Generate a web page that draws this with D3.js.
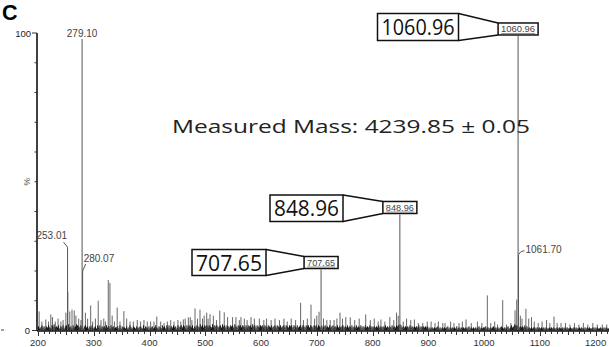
<!DOCTYPE html>
<html>
<head>
<meta charset="utf-8">
<script src="https://cdn.jsdelivr.net/npm/d3@7"></script>
<style>
  html, body { margin: 0; padding: 0; background: #fff; }
  svg { display: block; }
</style>
</head>
<body>
<svg id="chart" width="609" height="347"></svg>
<script>
// ---- data -------------------------------------------------------------
// labelled peaks: m/z and relative intensity (%)
const labelledMz  = [253.01, 279.10, 280.07, 707.65, 848.96, 1060.96, 1061.70];
const labelledPct = [28, 100, 20, 20.5, 39, 99, 25.5];

// unlabelled peaks above the baseline: [m/z, %]
const minorPeaks = [
  [202, 6.4], [207, 3], [214, 3.7], [219, 3], [223, 5.4], [226, 4.5], [231, 3], [236, 4],
  [241, 3], [245, 3.5], [250, 6], [253.5, 13], [257, 6.4], [261, 7], [265, 6.7], [268, 5],
  [273, 4], [277, 3.5], [285, 6], [289, 4], [294.5, 8.4], [298, 3], [303, 4], [308, 10],
  [313, 3.5], [318, 4], [321, 3], [326, 17], [329, 16], [333, 5], [337, 3], [342, 7.7],
  [347, 3], [354, 6.5], [359, 4], [365, 3], [371, 3], [378, 3.5], [384, 3], [390, 3.5],
  [396, 3], [402, 3], [408, 3], [413, 4.7], [420, 3], [426, 2.5], [432, 3], [438, 3.5],
  [444, 3], [451, 3.5], [456, 3], [460.6, 3.7], [464, 4], [469.6, 4.4], [473, 4.5], [476, 3.5],
  [481.6, 7.4], [486, 4], [490.5, 7], [495, 4], [498, 5], [502.5, 6], [505, 4], [508.5, 5.5],
  [514.5, 5], [520, 3.5], [526, 6.7], [534, 6.1], [540, 4.5], [549, 4.5], [555, 4.5], [561, 3.5],
  [564, 4.5], [570, 4], [575, 3.5], [582, 4.5], [588, 4], [597, 4], [605, 3.5], [610, 4],
  [618, 3.5], [625, 4], [633, 3.5], [641, 4], [647, 3], [654, 4], [662, 3.5], [671, 9.3],
  [676, 3.5], [683, 4], [689.6, 8.7], [696, 4], [700, 5], [704, 6.3], [712, 4], [718, 3.5],
  [724, 3.5], [731, 3.5], [736, 4], [741.6, 6], [746, 4], [752, 4.5], [760, 4.4], [768, 3.5],
  [776, 4], [787.7, 5.4], [796, 3.5], [803, 4], [810, 3], [815, 3.7], [822, 3], [831, 4.5],
  [838, 3.5], [843, 6], [846, 5], [855, 3], [861, 4], [868.5, 3.5], [875, 3.7], [882, 2.5],
  [890, 2.5], [898, 3], [905, 3], [912, 2.5], [918, 3], [926, 2.5], [930, 2.5], [940, 3],
  [946, 2.5], [955, 2.5], [961, 3], [967.6, 3.7], [977, 2.5], [988, 3], [996, 2.5], [1005.8, 11.8],
  [1012, 2.5], [1019, 3], [1024, 2], [1033.4, 10.2], [1040, 2], [1048, 2.5], [1055.5, 6.8], [1058.5, 10.4],
  [1065, 5], [1068, 4], [1075, 7.3], [1080, 4], [1085, 4.5], [1090, 3], [1097, 2.5], [1104, 3],
  [1112, 3.5], [1118, 2.5], [1125.4, 4.7], [1131, 2.5], [1138, 2.5], [1146, 2.5], [1154, 2], [1162, 2.5],
  [1170, 2], [1178, 2.5], [1186, 2], [1195, 2.5], [1203, 2], [1212, 2], [1220, 2]
];

// baseline chemical noise: one digit per 2 m/z units starting at 200, in steps of 0.35 %
const noiseStart = 200;
const noiseStep = 2;
const noiseUnit = 0.35;
const noiseRows = [
  "42353424353254634352435245363425346543532453424352", // 200
  "34253524342534253423342524332423532432423432524324", // 300
  "23423532432534253524353425345354253543524354364535", // 400
  "45354363545345364535435453643545354353545364535435", // 500
  "45354354353453543534535435453543534535435453543545", // 600
  "35435345343534534353434534353435343534353435343534", // 700
  "34343534343534343534354565343434353434343534343434", // 800
  "23232323423232323423232324232323232342323232342323", // 900
  "34232323423232343232342353465453434353423232332323", // 1000
  "23232322323232232322323232232232322323223232322323", // 1100
  "232232232322"                                        // 1200
];

const xTicks = [200, 300, 400, 500, 600, 700, 800, 900, 1000, 1100, 1200];
const yTickLabels = [[100, "100"], [0, "0"]];

// ---- scales -----------------------------------------------------------
const svg = d3.select("#chart");
const x = d3.scaleLinear().domain([200, 1224]).range([38, 609]);
const y = d3.scaleLinear().domain([0, 100]).range([330.5, 33]);

const noise = noiseRows.join("").split("").map((c, i) => ({
  mz: noiseStart + i * noiseStep + 1,
  pct: (+c) * noiseUnit
}));

// ---- spectrum ---------------------------------------------------------
const spec = svg.append("g");

spec.selectAll("line.minor").data(minorPeaks).join("line")
  .attr("class", "minor")
  .attr("x1", d => x(d[0])).attr("x2", d => x(d[0]))
  .attr("y1", y(0)).attr("y2", d => y(d[1]))
  .attr("stroke", "#666").attr("stroke-width", 1);

spec.selectAll("line.noise").data(noise).join("line")
  .attr("class", "noise")
  .attr("x1", d => x(d.mz)).attr("x2", d => x(d.mz))
  .attr("y1", y(0)).attr("y2", d => y(d.pct))
  .attr("stroke", "#111").attr("stroke-width", 1);

const major = labelledMz.map((m, i) => ({ mz: m, pct: labelledPct[i] }));
spec.selectAll("line.major").data(major).join("line")
  .attr("class", "major")
  .attr("x1", d => x(d.mz)).attr("x2", d => x(d.mz))
  .attr("y1", y(0)).attr("y2", d => y(d.pct))
  .attr("stroke", "#555").attr("stroke-width", 1);

// ---- axes -------------------------------------------------------------
const axisFont = "'Liberation Sans', Arial, sans-serif";
const ax = svg.append("g");

// x axis baseline and ticks
ax.append("line")
  .attr("x1", 37).attr("x2", 609).attr("y1", 331).attr("y2", 331)
  .attr("stroke", "#111").attr("stroke-width", 1.4);

const minorX = d3.range(200, 1225, 10);
ax.selectAll("line.xt").data(minorX).join("line")
  .attr("class", "xt")
  .attr("x1", d => Math.round(x(d)) + 0.5).attr("x2", d => Math.round(x(d)) + 0.5)
  .attr("y1", 331).attr("y2", d => d % 100 === 0 ? 336 : (d % 50 === 0 ? 335 : 334))
  .attr("stroke", "#333").attr("stroke-width", 1);

ax.selectAll("text.xl").data(xTicks).join("text")
  .attr("class", "xl")
  .attr("x", d => x(d)).attr("y", 346)
  .attr("text-anchor", "middle")
  .attr("font-family", axisFont).attr("font-size", 9.5)
  .attr("fill", "#333")
  .text(d => d);

// y axis
ax.append("line")
  .attr("x1", 37).attr("x2", 37).attr("y1", 33).attr("y2", 331)
  .attr("stroke", "#111").attr("stroke-width", 1.6);

ax.selectAll("line.yt").data(d3.range(0, 101, 10)).join("line")
  .attr("class", "yt")
  .attr("x1", d => (d === 0 || d === 100) ? 32 : 34.5).attr("x2", 37)
  .attr("y1", d => y(d)).attr("y2", d => y(d))
  .attr("stroke", "#333").attr("stroke-width", 1);

ax.selectAll("text.yl").data(yTickLabels).join("text")
  .attr("class", "yl")
  .attr("x", d => d[0] === 100 ? 31 : 30).attr("y", d => y(d[0]) + 3.5)
  .attr("text-anchor", "end")
  .attr("font-family", axisFont).attr("font-size", 9.5)
  .attr("fill", "#222")
  .text(d => d[1]);

ax.append("text")
  .attr("transform", `translate(30,${y(50)}) rotate(-90)`)
  .attr("text-anchor", "middle")
  .attr("font-family", axisFont).attr("font-size", 8.5)
  .attr("fill", "#555")
  .text("%");

ax.append("line")
  .attr("x1", 1).attr("x2", 4).attr("y1", 330).attr("y2", 330)
  .attr("stroke", "#444").attr("stroke-width", 1);

// ---- peak labels ------------------------------------------------------
const lab = svg.append("g").attr("font-family", axisFont).attr("font-size", 10).attr("fill", "#444");

// base peak label over its own line
const bx = x(279.10);
lab.append("rect").attr("x", bx - 16).attr("y", 28).attr("width", 32).attr("height", 11).attr("fill", "#fff");
lab.append("text").attr("x", bx).attr("y", 37).attr("text-anchor", "middle").text("279.10");

// 253.01 with leader
const p253 = x(253.01), t253 = y(28);
lab.append("text").attr("x", p253 - 0.5).attr("y", t253 - 8).attr("text-anchor", "end").text("253.01");
lab.append("path").attr("d", `M${p253 - 4},${t253 - 5} L${p253},${t253}`)
  .attr("stroke", "#555").attr("fill", "none");

// 280.07 with leader
const p280 = x(280.07), t280 = y(20);
lab.append("text").attr("x", p280 + 1).attr("y", t280 - 9.5).text("280.07");
lab.append("path").attr("d", `M${p280},${t280} L${p280 + 3},${t280 - 7}`)
  .attr("stroke", "#555").attr("fill", "none");

// 1061.70 with leader
const p1061 = x(1061.70), t1061 = y(25.5);
lab.append("text").attr("x", p1061 + 7).attr("y", t1061 - 1.5).text("1061.70");
lab.append("path").attr("d", `M${p1061},${t1061} Q${p1061 + 2},${t1061 - 4} ${p1061 + 6},${t1061 - 4}`)
  .attr("stroke", "#555").attr("fill", "none");

// ---- highlighted call-outs ------------------------------------------------
const callouts = [
  { mz: 1060.96, pct: 99,   big: [377.5, 13.5, 81, 27] },
  { mz: 848.96,  pct: 39,   big: [270, 195, 73, 26.5] },
  { mz: 707.65,  pct: 20.5, big: [192, 249.5, 74, 26] }
];
const co = svg.append("g");
callouts.forEach(c => {
  const px = x(c.mz), top = y(c.pct);
  const sw = c.mz >= 1000 ? 40 : 34, sh = 12;
  const sx = px - sw / 2, sy = top - sh - 1;
  const [bxx, byy, bw, bh] = c.big;
  // connecting wedge
  co.append("path")
    .attr("d", `M${bxx + bw},${byy} L${sx},${sy} M${bxx + bw},${byy + bh} L${sx},${sy + sh}`)
    .attr("stroke", "#111").attr("stroke-width", 1.5).attr("fill", "none");
  // small box on the peak
  co.append("rect").attr("x", sx).attr("y", sy).attr("width", sw).attr("height", sh)
    .attr("fill", "#fff").attr("stroke", "#111").attr("stroke-width", 1.5);
  co.append("text").attr("x", px).attr("y", sy + 9.5)
    .attr("text-anchor", "middle")
    .attr("font-family", axisFont).attr("font-size", 9)
    .attr("fill", "#444")
    .attr("textLength", sw - 6).attr("lengthAdjust", "spacingAndGlyphs")
    .text(c.mz.toFixed(2));
  co.append("line").attr("x1", sx + 3).attr("x2", sx + sw - 3)
    .attr("y1", sy + sh - 1.5).attr("y2", sy + sh - 1.5)
    .attr("stroke", "#777").attr("stroke-width", 0.8);
  // large box
  co.append("rect").attr("x", bxx).attr("y", byy).attr("width", bw).attr("height", bh)
    .attr("fill", "#fff").attr("stroke", "#111").attr("stroke-width", 1.5);
  co.append("text").attr("x", bxx + bw / 2).attr("y", byy + bh / 2 + 8)
    .attr("text-anchor", "middle")
    .attr("font-family", "'Open Sans', 'Noto Sans', sans-serif").attr("font-size", 22)
    .attr("fill", "#111")
    .attr("textLength", bw - 8).attr("lengthAdjust", "spacingAndGlyphs")
    .text(c.mz.toFixed(2));
});

// ---- titles -----------------------------------------------------------
svg.append("text").attr("x", 2).attr("y", 19.5)
  .attr("font-family", "'Liberation Sans', Arial, sans-serif")
  .attr("font-size", 21.5).attr("font-weight", 700).attr("fill", "#000")
  .text("C");

svg.append("text").attr("x", 172).attr("y", 133)
  .attr("font-family", "'Open Sans', 'Noto Sans', sans-serif")
  .attr("font-size", 18).attr("fill", "#222")
  .attr("textLength", 358).attr("lengthAdjust", "spacingAndGlyphs")
  .text("Measured Mass: 4239.85 \u00b1 0.05");
</script>
</body>
</html>
